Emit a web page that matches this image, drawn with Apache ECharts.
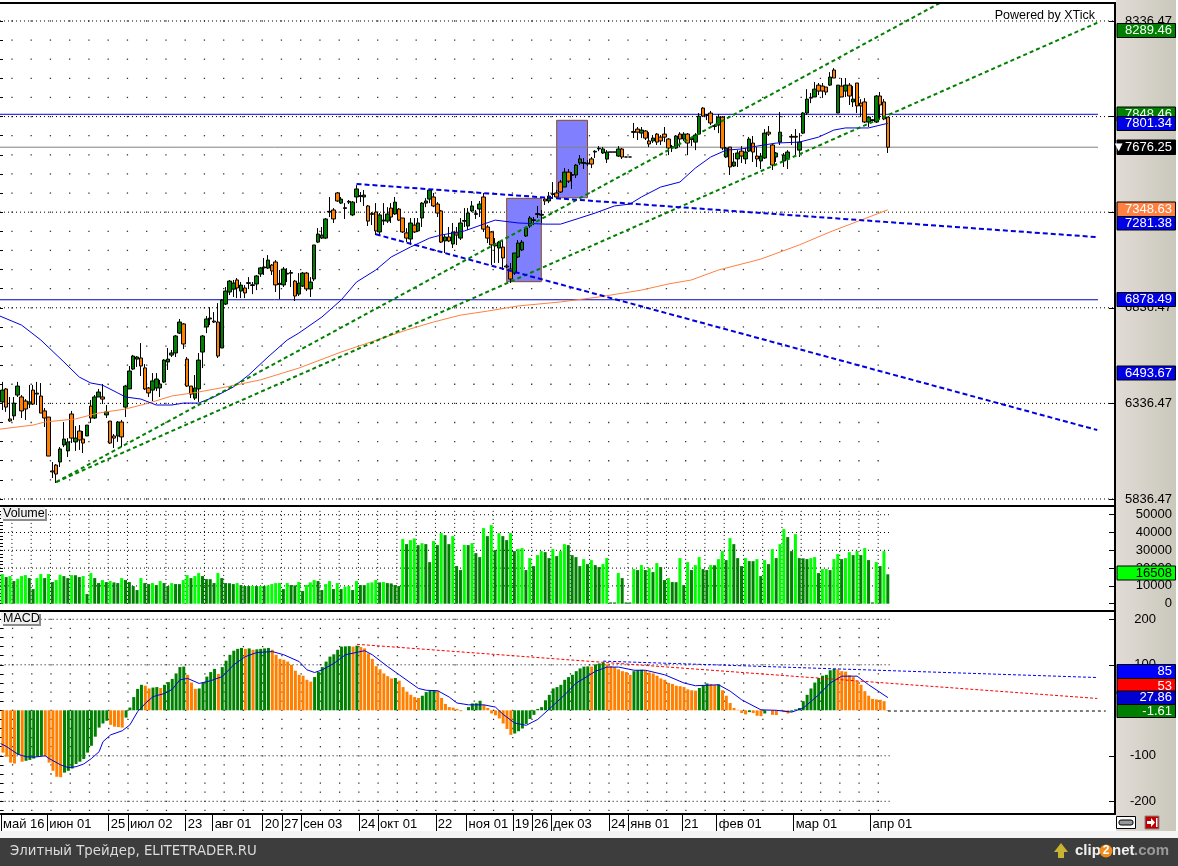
<!DOCTYPE html>
<html><head><meta charset="utf-8">
<style>
html,body{margin:0;padding:0;background:#fff;width:1178px;height:866px;overflow:hidden}
#panel{position:absolute;left:1116px;top:0;width:60px;height:831px;background:linear-gradient(90deg,#e2dbd6,#c9c8bb)}
#strip{position:absolute;left:0;top:831px;width:1178px;height:7px;background:#f4f4f4}
#c{position:absolute;left:0;top:0;width:1178px;height:866px}
</style>
<script src="https://cdn.jsdelivr.net/npm/echarts@6/dist/echarts.min.js"></script>
</head><body><div id="panel"></div><div id="strip"></div><div id="c"></div>
<script>
const opens=[6344,6412,6255,6271,6380,6370,6349,6333,6406,6385,
6375,6297,6265,5983,6014,6030,6119,6088,6281,6135,
6192,6150,6166,6322,6260,6370,6370,6276,6244,6166,
6166,6239,6317,6412,6516,6568,6574,6522,6417,6406,
6417,6417,6448,6553,6589,6600,6704,6752,6568,6427,
6364,6412,6605,6736,6778,6767,6762,6626,6856,6919,
6934,6982,6924,6940,6964,6957,6961,7013,7045,7044,
7060,7076,6964,6956,7013,7017,6976,6908,6950,7018,
6935,6987,7180,7201,7201,7337,7348,7437,7384,7360,
7389,7322,7416,7419,7416,7369,7329,7337,7233,7291,
7290,7358,7327,7353,7306,7228,7196,7269,7238,7306,
7384,7405,7416,7379,7343,7186,7207,7170,7228,7201,
7293,7264,7343,7329,7353,7416,7259,7233,7165,7149,
7154,7055,7039,7018,7102,7139,7212,7264,7293,7325,
7321,7405,7395,7429,7437,7494,7468,7546,7529,7531,
7594,7592,7589,7615,7651,7667,7646,7614,7651,7651,
7630,7667,7625,7625,7754,7771,7750,7761,7709,7709,
7745,7729,7745,7719,7679,7672,7745,7719,7745,7721,
7703,7745,7881,7845,7855,7789,7792,7834,7625,7677,
7578,7615,7656,7615,7656,7698,7630,7604,7620,7755,
7688,7625,7703,7604,7615,7729,7733,7661,7750,7855,
7937,7939,8001,7996,7991,8001,8080,7855,7996,7970,
8001,7913,8012,7907,7913,7808,7816,7808,7944,7913,
7834];
const closes=[6406,6317,6245,6338,6427,6297,6307,6344,6333,6390,
6286,6260,6061,5978,5967,6098,6150,6135,6155,6155,
6145,6129,6223,6260,6370,6396,6359,6292,6129,6155,
6239,6161,6427,6506,6584,6579,6532,6412,6391,6454,
6464,6438,6563,6568,6600,6689,6762,6647,6427,6385,
6417,6563,6689,6778,6783,6762,6584,6877,6924,6976,
6966,6940,6955,6914,6968,6953,7003,7045,7050,7086,
7029,6956,6959,7039,7017,7021,6898,6966,7018,6935,
6971,7165,7222,7217,7301,7341,7301,7395,7405,7356,
7393,7389,7458,7423,7426,7290,7325,7238,7322,7295,
7327,7311,7389,7295,7233,7201,7280,7233,7280,7384,
7395,7452,7369,7332,7180,7207,7186,7233,7217,7280,
7289,7332,7369,7325,7379,7248,7201,7165,7160,7180,
7097,7050,6987,7123,7175,7180,7254,7306,7297,7329,
7325,7395,7421,7433,7416,7442,7546,7499,7533,7583,
7615,7596,7593,7588,7655,7671,7667,7651,7651,7651,
7667,7625,7625,7625,7758,7755,7766,7724,7693,7724,
7703,7709,7729,7672,7675,7735,7719,7745,7698,7717,
7740,7839,7839,7843,7803,7785,7834,7672,7672,7573,
7599,7646,7630,7651,7719,7651,7615,7630,7750,7745,
7583,7646,7755,7635,7651,7733,7729,7703,7855,7928,
7933,7980,7970,7970,7965,8043,8038,8001,7939,8001,
7944,7928,7892,7892,7808,7834,7820,7944,7897,7824,
7676.25];
const lows=[6302,6292,6240,6250,6370,6260,6250,6312,6328,6328,
6286,6213,6061,5946,5920,6004,6108,6056,6129,6088,
6093,6077,6166,6234,6255,6370,6333,6260,6124,6103,
6135,6108,6265,6412,6511,6527,6480,6406,6370,6349,
6401,6370,6443,6511,6579,6579,6699,6621,6422,6364,
6354,6344,6521,6704,6746,6757,6574,6626,6851,6903,
6893,6887,6887,6887,6934,6908,6929,6998,7008,7039,
7008,6919,6882,6945,6971,6945,6872,6898,6945,6924,
6893,6976,7175,7196,7196,7311,7280,7390,7379,7301,
7379,7316,7384,7389,7369,7264,7269,7217,7217,7269,
7280,7280,7322,7290,7228,7180,7165,7228,7233,7259,
7363,7384,7363,7311,7175,7123,7180,7149,7165,7191,
7259,7243,7337,7301,7311,7233,7175,7060,7071,7071,
7034,7044,6966,7008,7097,7133,7207,7254,7269,7306,
7280,7374,7384,7416,7416,7437,7468,7489,7458,7515,
7583,7562,7578,7567,7620,7656,7641,7594,7651,7651,
7625,7615,7625,7625,7724,7714,7724,7714,7677,7698,
7688,7688,7703,7635,7651,7667,7677,7709,7635,7682,
7661,7740,7834,7818,7792,7766,7750,7661,7620,7531,
7573,7573,7594,7588,7651,7599,7573,7562,7615,7735,
7557,7599,7688,7573,7562,7688,7635,7625,7745,7845,
7907,7939,7949,7934,7949,7996,8038,7855,7939,7939,
7897,7887,7855,7839,7803,7782,7813,7803,7818,7818,
7646];
const highs=[6449,6417,6370,6370,6449,6380,6359,6433,6433,6449,
6443,6312,6265,6030,6019,6108,6239,6155,6297,6218,
6223,6192,6223,6354,6380,6412,6438,6328,6244,6176,
6244,6250,6433,6532,6590,6584,6652,6542,6422,6495,
6495,6459,6568,6626,6616,6694,6778,6757,6579,6427,
6485,6600,6694,6793,6840,6814,6861,6882,6945,6982,
6982,6992,6971,6955,6997,6971,7008,7050,7097,7112,
7065,7086,7034,7050,7044,7034,6982,7018,7024,7024,
6997,7165,7253,7259,7306,7416,7358,7442,7416,7384,
7400,7395,7478,7442,7452,7374,7337,7384,7332,7384,
7363,7384,7416,7358,7306,7253,7306,7306,7306,7389,
7410,7458,7437,7389,7348,7217,7259,7280,7259,7306,
7358,7358,7395,7348,7395,7437,7269,7238,7201,7186,
7191,7065,7071,7123,7191,7191,7259,7316,7311,7369,
7348,7410,7442,7494,7452,7505,7567,7562,7546,7588,
7635,7620,7609,7625,7661,7682,7677,7661,7651,7651,
7682,7672,7625,7625,7803,7782,7782,7766,7755,7740,
7750,7740,7782,7724,7688,7740,7755,7755,7750,7729,
7750,7855,7886,7850,7866,7797,7850,7839,7677,7677,
7646,7661,7682,7672,7730,7735,7677,7646,7771,7787,
7693,7651,7860,7646,7661,7745,7771,7750,7860,7980,
7960,8017,8012,8012,7991,8069,8090,8001,8038,8038,
8012,7996,8012,7928,7933,7839,7823,7949,7965,7928,
7834];
const volumes=[16640,14960,15520,12720,14025,15520,16080,14400,8230,14400,
16640,14400,16640,12155,13280,16270,15520,14400,16080,16000,
14960,15520,5420,17200,14400,11590,13280,12155,12720,11970,
11590,14400,13280,12155,9910,7670,14400,11590,11030,11590,
10470,12720,11590,9910,11590,11030,11000,13280,16080,14400,
15520,17200,15520,13840,13800,11590,17200,14400,11590,11500,
11030,11590,10470,9910,9900,9950,9900,9950,9900,10285,
11030,11590,11650,8230,11590,10470,10285,12155,7100,10470,
11970,13280,12720,7670,11030,12720,8230,11590,8230,9540,
9910,7670,12720,10470,10400,11590,11970,13280,11970,12155,
11590,11400,10470,9910,36280,33470,35720,36650,32910,34030,
33470,23375,35160,32910,39640,38520,33470,37960,21130,18890,
33000,32910,34030,28420,26180,42450,37960,44130,30110,39640,
37960,35720,39640,29550,30670,31230,18890,25620,21130,27300,
29550,28985,25620,30670,26740,29550,33470,32910,27300,26180,
21130,25060,22250,24500,21690,20570,22250,25620,750,700,
17200,14400,750,720,19450,18890,21690,18890,20010,17765,
22810,20570,13280,14400,12155,12100,25620,10470,23375,18890,
21690,26180,19450,18890,21690,21600,25060,29550,24500,36840,
33470,25620,21130,25620,23940,23900,25060,15520,24500,22250,
30670,25620,33470,41890,37400,29550,39080,25620,25500,25060,
25620,26180,17200,19450,19500,18890,25060,27860,25060,25620,
28985,27300,29550,27300,31230,24500,750,23375,21130,29550,
16508];
const macdHist=[-93,-102,-115,-117,-98,-113,-111,-109,-106,-102,
-100,-101,-115,-133,-146,-147,-137,-133,-128,-118,
-113,-107,-93,-78,-58,-38,-29,-23,-32,-36,
-37,-38,-16,6,29,47,56,54,48,50,
51,49,56,62,69,81,95,96,78,61,
47,48,61,74,84,91,80,95,109,122,
131,135,137,135,136,133,134,135,136,137,
133,122,113,111,107,100,87,78,76,67,
63,73,84,95,107,118,123,133,140,140.5,
141,140,142,139,136,125,113,97,90,81,
75,70,71,65,51,41,34,29,27,32,
40,43,44,43,27,14,7,6,3,-2,
0,7,15,15.5,21,12,5,-7,-11,-18,
-29,-41,-54,-51,-46,-40,-30,-19,-10,3,
7,22,34,48,51,56,67,73,78,86,
92,96,96.5,96,101,103,105,101,97,95,
90,86,84,78,86,88,89,88,83,81,
76,70,67,60,58,54,53,51,46,44,
43,49,55,59,58,56,57,44,32,16,
5,1,-6,-9,-4,-6,-12,-13,-7,-0.5,
-10,-10.5,-1,-4,-7,-3,2,5,20,34,
48,61,71,76,78,88,91,90,86,85,
77,73,64,56,42,32,25,24,23,20,
-1.61];
// read points of the smooth lines: [bar index, value]
const maBlue=[[-0.6,6793],[5,6746],[10,6668],[16,6553],[20,6474],[23,6443],[26,6432],[30,6391],[32,6370],[36,6359],[40,6328],[44,6328],[47,6338],[51,6338],[55,6370],[60,6422],[64,6485],[69,6579],[74,6668],[77,6704],[83,6788],[88,6877],[92,6971],[97,7034],[101,7102],[106,7154],[111,7201],[114,7217],[120,7238],[125,7274],[128,7295],[134,7280],[141,7274],[145,7274],[150,7306],[154,7332],[159,7369],[163,7379],[166,7416],[171,7468],[176,7494],[180,7567],[184,7625],[188,7661],[192,7667],[196,7682],[201,7698],[207,7703],[212,7729],[216,7766],[219,7777],[225,7777],[230,7801.34]];
const maOrange=[[-0.6,6202],[8,6223],[11,6239],[19,6255],[25,6286],[32,6307],[38,6338],[44,6375],[51,6396],[58,6422],[67,6459],[77,6521],[88,6605],[98,6673],[105,6720],[112,6762],[119,6798],[126,6819],[134,6846],[145,6867],[155,6893],[166,6929],[173,6961],[179,6982],[186,7034],[197,7091],[207,7165],[215,7233],[223,7295],[230,7348.63]];
const macdSignal=[[-0.6,-73],[1,-80],[2,-86],[4,-97],[6,-102],[8,-103],[11,-100],[12,-106],[15,-120],[17,-126],[19,-124],[21,-118],[23,-106],[25,-91],[26,-69],[28,-54],[31,-45],[33,-32],[35,-3],[37,15],[39,30],[42,37],[44,46],[46,67],[48,70],[51,59],[54,65],[57,74],[60,100],[63,118],[66,127],[70,129],[73,122],[77,107],[79,89],[81,83],[83,89],[86,103],[89,122],[94,131],[96,122],[100,96],[103,78],[108,48],[110,44],[113,43],[116,29],[118,16],[121,12],[125,12],[128,7],[130,-9],[133,-28],[136,-33],[139,-20],[142,3],[146,34],[149,60],[152,75],[154,86],[157,95],[160,95],[164,88],[167,88],[172,78],[177,60],[180,54],[186,56],[189,42],[192,23],[197,1],[201,0],[205,-4],[208,5],[212,34],[215,60],[218,75],[222,75],[225,56],[230,27.86]];
const greenTrendA=[[14,5925],[244,8436]];
const greenTrendB=[[14,5925],[284.4,8327]];
const blueTrendA=[[92,7484],[284.4,7206]];
const blueTrendB=[[97,7221],[284.4,6197]];
const levelBlue=[[-0.6,7848.46],[284.6,7848.46]];
const levelGrey=[[-0.6,7676.25],[284.6,7676.25]];
const levelLow=[[-0.6,6878.49],[284.6,6878.49]];
const macdRedTrend=[[92,145],[284.4,26]];
const macdBlueTrend=[[156,108],[284.4,72]];
const macdZeroDash=[[230,-1.61],[286.6,-1.61]];
const boxA=[131,7409,140,6973];
const boxB=[144,7817,152,7412];
const xTickBars=[0,12,28,33,48,55,68,73,78,93,98,113,121,133,138,143,158,163,177,186,206,226];
const xTickLabels=['май 16','июн 01','25','июл 02','23','авг 01','20','27','сен 03','24','окт 01','22','ноя 01','19','26','дек 03','24','янв 01','21','фев 01','мар 01','апр 01'];
const priceLabels=[5836.47,6336.47,6836.47,7336.47,7836.47,8336.47];
const volumeLabels=[0,10000,20000,30000,40000,50000];
const macdLabels=[-200,-100,100,200];

const XMIN=-0.6,XMAX=289.01,F='"Liberation Sans",Arial,sans-serif';
const seq=(a,b,s)=>{const r=[];for(let v=a;v<=b+1e-6;v+=s)r.push(+v.toFixed(2));return r;};
const priceMinor=seq(5836.47,8336.47,100), volMinor=seq(0,52000,2000), macdMinor=seq(-220,200,20);
const cols=seq(2.5,227.5,5);
const GREEN='#008000',ORANGE='#ff8000',BLUE='#0000e0';

function rows(vals,end){const d=[];vals.forEach(v=>{d.push([XMIN,v],[end,v],[XMIN,null]);});return d;}
function columns(lo,hi){const d=[];cols.forEach(x=>{d.push([x,lo],[x,hi],[x,null]);});return d;}
function dots(rs){const d=[];rs.forEach(r=>cols.forEach(c=>d.push([c,r])));return d;}
function lineS(g,data,color,width,type,z,extra){return Object.assign({type:'line',xAxisIndex:g,yAxisIndex:g*3,data,showSymbol:false,symbol:'none',silent:true,z,animation:false,
  lineStyle:{color,width,type:type||'solid'}},extra||{});}
function yAxes(g,min,max,labels,minor,margin,minorLen,fmt){
  const base={gridIndex:g,type:'value',min,max,scale:true,splitLine:{show:false},silent:true};
  return [
   Object.assign({},base,{position:'right',axisLine:{show:true,onZero:false,lineStyle:{color:'#000',width:2}},
     axisTick:{show:true,inside:true,length:6,customValues:labels,lineStyle:{color:'#000'}},
     axisLabel:{show:true,customValues:labels,align:'right',margin,color:'#000',fontSize:13,fontFamily:F,formatter:fmt,showMinLabel:true,showMaxLabel:true,hideOverlap:false}}),
   Object.assign({},base,{position:'right',axisLine:{show:false},axisLabel:{show:false},
     axisTick:{show:true,inside:true,length:minorLen,customValues:minor,lineStyle:{color:'#000'}}}),
   Object.assign({},base,{position:'left',axisLine:{show:false},axisLabel:{show:false},
     axisTick:{show:true,inside:true,length:3,customValues:minor,lineStyle:{color:'#000'}}})
  ];
}
function xAx(g,extra){return Object.assign({gridIndex:g,type:'value',min:XMIN,max:XMAX,splitLine:{show:false},
  axisLine:{show:true,onZero:false,lineStyle:{color:'#000',width:2}},axisTick:{show:false},axisLabel:{show:false}},extra||{});}
const tickVals=xTickBars.map(b=>b-0.5);

function box(y0,y1,fill,text,color){
  return [{type:'rect',z:100,silent:true,shape:{x:1117,y:y0,width:58.5,height:y1-y0},style:{fill,stroke:'#000',lineWidth:1}},
          {type:'text',z:100,silent:true,style:{text,x:1172,y:(y0+y1)/2,textAlign:'right',textVerticalAlign:'middle',font:'13px '+F,fill:color}}];
}
function tag(x,y,w,h,text){
  return [{type:'rect',z:100,silent:true,shape:{x:x+2,y:y+2,width:w,height:h},style:{fill:'#8c8c8c'}},
          {type:'rect',z:101,silent:true,shape:{x,y,width:w,height:h},style:{fill:'#f0f0f0',stroke:'#fff',lineWidth:0}},
          {type:'text',z:102,silent:true,style:{text,x:x+2,y:y+h/2+0.5,textVerticalAlign:'middle',font:'12.5px '+F,fill:'#000'}}];
}
const graphics=[].concat(
  [{type:'line',z:90,silent:true,shape:{x1:0,y1:3,x2:1116,y2:3},style:{stroke:'#000',lineWidth:2}},
   {type:'text',z:101,silent:true,style:{text:'Powered by XTick',x:1095,y:16,textAlign:'right',textVerticalAlign:'middle',font:'12.5px '+F,fill:'#000'}}],
  box(23.5,37.5,GREEN,'8289.46','#fff'),
  box(107,121,GREEN,'7848.46','#fff'),
  box(116.5,130.5,'#0000e6','7801.34','#fff'),
  box(140,154.5,'#000','▼7676.25','#fff'),
  box(202,216.5,'#ff8040','7348.63','#fff'),
  box(216.5,230,'#0000e6','7281.38','#fff'),
  box(292.5,306.5,'#0000e6','6878.49','#fff'),
  box(366,380,'#0000e6','6493.67','#fff'),
  box(566,580,'#00ff00','16508','#000'),
  box(664.5,678.5,'#0000ff','85','#fff'),
  box(678.5,694,'#ff0000','53','#fff'),
  box(691,704.5,'#0000d0','27.86','#fff'),
  box(704.5,717.5,GREEN,'-1.61','#fff'),
  tag(1,507,44,12,'Volume'),
  tag(1,612,38,12,'MACD'),
  [{type:'rect',z:100,silent:true,shape:{x:1116.5,y:816.5,width:19,height:12},style:{fill:'#fff',stroke:'#000',lineWidth:1}},
   {type:'rect',z:101,silent:true,shape:{x:1119,y:820,width:14,height:5,r:2},style:{fill:'#999',stroke:'#000',lineWidth:1}},
   {type:'rect',z:100,silent:true,shape:{x:1145,y:816,width:14,height:13},style:{fill:'#c00000',stroke:'#888',lineWidth:1}},
   {type:'polygon',z:101,silent:true,shape:{points:[[1147,821],[1151,821],[1151,818],[1155,822.5],[1151,827],[1151,824],[1147,824]]},style:{fill:'#fff'}},
   {type:'rect',z:101,silent:true,shape:{x:1156,y:818,width:1.5,height:9},style:{fill:'#fff'}},
   {type:'rect',z:100,silent:true,shape:{x:0,y:838,width:1178,height:28},style:{fill:'#3d3d3d'}},
   {type:'text',z:101,silent:true,style:{text:'Элитный Трейдер, ELITETRADER.RU',x:10,y:852,textVerticalAlign:'middle',font:'13.3px "DejaVu Sans"',fill:'#dcdcdc'}},
   {type:'polygon',z:101,silent:true,shape:{points:[[1054,852],[1061,843],[1068,852],[1064,852],[1064,858],[1058,858],[1058,852]]},style:{fill:'#c8b432'}},
   {type:'text',z:101,silent:true,style:{text:'clip',x:1075,y:851,textVerticalAlign:'middle',font:'bold 15px "Liberation Sans"',fill:'#f0f0f0'}},
   {type:'circle',z:101,silent:true,shape:{cx:1106,cy:851,r:6.5},style:{fill:'#f08c1e'}},
   {type:'text',z:102,silent:true,style:{text:'2',x:1106,y:851,textAlign:'center',textVerticalAlign:'middle',font:'bold 12px "Liberation Sans"',fill:'#fff'}},
   {type:'text',z:101,silent:true,style:{text:'net',x:1112,y:851,textVerticalAlign:'middle',font:'bold 15px "Liberation Sans"',fill:'#f0f0f0'}},
   {type:'text',z:101,silent:true,style:{text:'.com',x:1134,y:851,textVerticalAlign:'middle',font:'bold 15px "Liberation Sans"',fill:'#9a9a9a'}}]
);

const chart=echarts.init(document.getElementById('c'),null,{renderer:'canvas',width:1178,height:866});
chart.setOption({
  animation:false,backgroundColor:'transparent',
  tooltip:{show:false},
  grid:[
    {left:0,width:1115,top:3,height:503,show:true,backgroundColor:'#fff',borderWidth:0},
    {left:0,width:1115,top:506,height:105,show:true,backgroundColor:'#fff',borderWidth:0},
    {left:0,width:1115,top:611,height:203,show:true,backgroundColor:'#fff',borderWidth:0}
  ],
  xAxis:[xAx(0),xAx(1),xAx(2,{
    axisTick:{show:true,length:17,customValues:tickVals,lineStyle:{color:'#000',width:1}},
    axisLabel:{show:true,customValues:tickVals,align:'left',verticalAlign:'top',margin:4,padding:[0,0,0,2],color:'#000',fontSize:13,fontFamily:F,
      showMinLabel:true,showMaxLabel:true,hideOverlap:false,
      formatter:v=>{const k=tickVals.findIndex(t=>Math.abs(t-v)<0.01);return k<0?'':xTickLabels[k];}}
  })],
  yAxis:[].concat(
    yAxes(0,5799.8,8430.5,priceLabels,priceMinor,57,3,v=>v.toFixed(2)),
    yAxes(1,-4100,54890,volumeLabels,volMinor,57,3,v=>String(Math.round(v))),
    yAxes(2,-227.9,218.2,macdLabels,macdMinor,41,3,v=>String(Math.round(v)))
  ),
  series:[
    // price panel
    lineS(0,rows(priceLabels,XMAX),'#000',1,[1,3],1,{markArea:{silent:true,z:2,itemStyle:{color:'#8080ff',opacity:1,borderColor:'#8b4a1a',borderWidth:1},
      data:[[{coord:[boxA[0],boxA[1]]},{coord:[boxA[2],boxA[3]]}],[{coord:[boxB[0],boxB[1]]},{coord:[boxB[2],boxB[3]]}]]}}),
    {type:'scatter',xAxisIndex:0,yAxisIndex:0,data:dots(priceMinor),symbol:'rect',symbolSize:1.3,itemStyle:{color:'#000'},silent:true,z:1,large:false},
    {type:'candlestick',xAxisIndex:0,yAxisIndex:0,z:4,barWidth:4,silent:true,
     data:opens.map((o,i)=>[i,o,closes[i],lows[i],highs[i]]),
     itemStyle:{color:GREEN,color0:ORANGE,borderColor:'#000',borderColor0:'#000',borderColorDoji:'#000',borderWidth:1}},
    lineS(0,maOrange,'#ff8040',1,'solid',5),
    lineS(0,maBlue,BLUE,1,'solid',5),
    lineS(0,levelBlue,BLUE,1,'solid',3),
    lineS(0,levelGrey,'#808080',1,'solid',3),
    lineS(0,levelLow,'#0000c0',1,'solid',3),
    lineS(0,greenTrendA,GREEN,2,[4,3],6),
    lineS(0,greenTrendB,GREEN,2,[4,3],6),
    lineS(0,blueTrendA,BLUE,2,[5,3],6),
    lineS(0,blueTrendB,BLUE,2,[5,3],6),
    // volume panel
    lineS(1,rows(volumeLabels.slice(1),230.5),'#000',1,[1,3],1),
    lineS(1,columns(-100,52500),'#000',1,[1,3],1),
    {type:'bar',xAxisIndex:1,yAxisIndex:3,z:4,barWidth:3,silent:true,
     data:volumes.map((v,i)=>[i,v]),
     itemStyle:{color:p=>(p.dataIndex>0&&volumes[p.dataIndex]<=volumes[p.dataIndex-1])?GREEN:'#00ff00'}},
    // macd panel
    lineS(2,rows([-200,-100,100,200],230.5),'#000',1,[1,3],1),
    {type:'scatter',xAxisIndex:2,yAxisIndex:6,data:dots(macdMinor),symbol:'rect',symbolSize:1.3,itemStyle:{color:'#000'},silent:true,z:1},
    {type:'bar',xAxisIndex:2,yAxisIndex:6,z:4,barWidth:3,silent:true,
     data:macdHist.map((v,i)=>[i,v]),
     itemStyle:{color:p=>(p.dataIndex===0||macdHist[p.dataIndex]<=macdHist[p.dataIndex-1])?ORANGE:GREEN}},
    lineS(2,macdSignal,BLUE,1,'solid',5),
    lineS(2,macdRedTrend,'#ff0000',1,[3,2],5),
    lineS(2,macdBlueTrend,'#0000ff',1,[3,2],5),
    lineS(2,macdZeroDash,'#000',1,[3,3],5)
  ],
  graphic:{elements:graphics}
});
</script></body></html>
